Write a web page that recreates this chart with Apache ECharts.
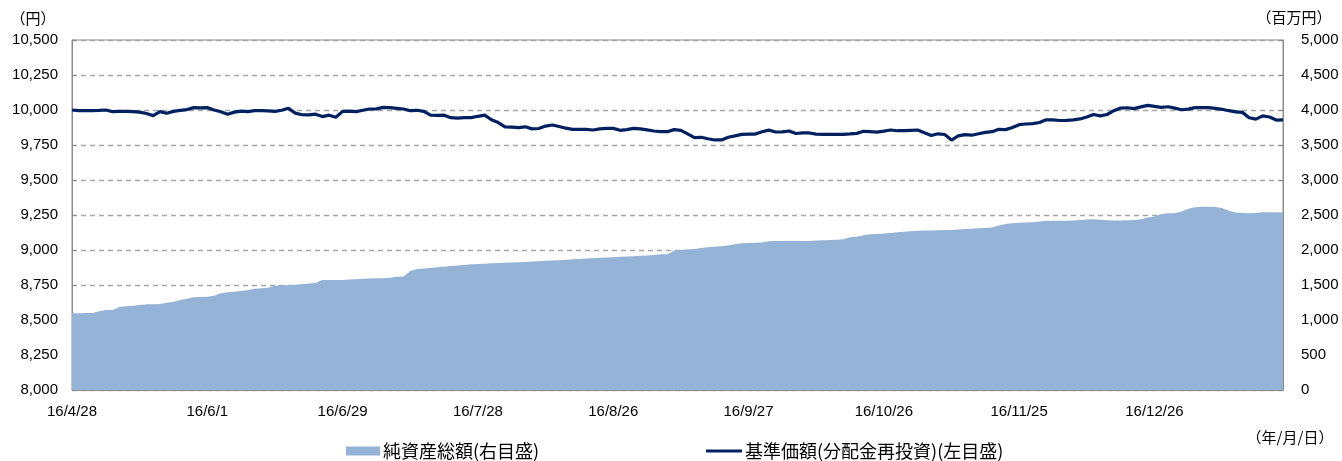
<!DOCTYPE html>
<html lang="ja">
<head>
    <meta charset="UTF-8">
    <title>基準価額・純資産総額の推移</title>
    <script src="https://cdn.jsdelivr.net/npm/echarts@6/dist/echarts.min.js"></script>
    <style>
        * { margin: 0; padding: 0; box-sizing: border-box; }
        body { background: #ffffff; }
        #chart { width: 1342px; height: 461px; }
    </style>
</head>
<body>
    <div id="chart"></div>
    <script type="text/javascript">
        // 営業日（年/月/日）
        const dates = [
            '16/4/28', '16/5/2', '16/5/6', '16/5/9', '16/5/10', '16/5/11', '16/5/12', '16/5/13',
            '16/5/16', '16/5/17', '16/5/18', '16/5/19', '16/5/20', '16/5/23', '16/5/24', '16/5/25',
            '16/5/26', '16/5/27', '16/5/30', '16/5/31', '16/6/1', '16/6/2', '16/6/3', '16/6/6',
            '16/6/7', '16/6/8', '16/6/9', '16/6/10', '16/6/13', '16/6/14', '16/6/15', '16/6/16',
            '16/6/17', '16/6/20', '16/6/21', '16/6/22', '16/6/23', '16/6/24', '16/6/27', '16/6/28',
            '16/6/29', '16/6/30', '16/7/1', '16/7/4', '16/7/5', '16/7/6', '16/7/7', '16/7/8',
            '16/7/11', '16/7/12', '16/7/13', '16/7/14', '16/7/15', '16/7/19', '16/7/20', '16/7/21',
            '16/7/22', '16/7/25', '16/7/26', '16/7/27', '16/7/28', '16/7/29', '16/8/1', '16/8/2',
            '16/8/3', '16/8/4', '16/8/5', '16/8/8', '16/8/9', '16/8/10', '16/8/12', '16/8/15',
            '16/8/16', '16/8/17', '16/8/18', '16/8/19', '16/8/22', '16/8/23', '16/8/24', '16/8/25',
            '16/8/26', '16/8/29', '16/8/30', '16/8/31', '16/9/1', '16/9/2', '16/9/5', '16/9/6',
            '16/9/7', '16/9/8', '16/9/9', '16/9/12', '16/9/13', '16/9/14', '16/9/15', '16/9/16',
            '16/9/20', '16/9/21', '16/9/23', '16/9/26', '16/9/27', '16/9/28', '16/9/29', '16/9/30',
            '16/10/3', '16/10/4', '16/10/5', '16/10/6', '16/10/7', '16/10/11', '16/10/12', '16/10/13',
            '16/10/14', '16/10/17', '16/10/18', '16/10/19', '16/10/20', '16/10/21', '16/10/24', '16/10/25',
            '16/10/26', '16/10/27', '16/10/28', '16/10/31', '16/11/1', '16/11/2', '16/11/4', '16/11/7',
            '16/11/8', '16/11/9', '16/11/10', '16/11/11', '16/11/14', '16/11/15', '16/11/16', '16/11/17',
            '16/11/18', '16/11/21', '16/11/22', '16/11/24', '16/11/25', '16/11/28', '16/11/29', '16/11/30',
            '16/12/1', '16/12/2', '16/12/5', '16/12/6', '16/12/7', '16/12/8', '16/12/9', '16/12/12',
            '16/12/13', '16/12/14', '16/12/15', '16/12/16', '16/12/19', '16/12/20', '16/12/21', '16/12/22',
            '16/12/26', '16/12/27', '16/12/28', '16/12/29', '16/12/30', '17/1/4', '17/1/5', '17/1/6',
            '17/1/10', '17/1/11', '17/1/12', '17/1/13', '17/1/16', '17/1/17', '17/1/18', '17/1/19',
            '17/1/20', '17/1/23', '17/1/24', '17/1/25'
        ];

        // 基準価額（分配金再投資）（円）
        const navValues = [
            10000, 9995, 9995, 9995, 9997, 10000, 9988, 9990, 9990, 9988,
            9985, 9975, 9960, 9988, 9977, 9990, 9997, 10003, 10017, 10015,
            10017, 10000, 9988, 9970, 9985, 9992, 9989, 9995, 9995, 9994,
            9990, 9998, 10012, 9978, 9966, 9965, 9970, 9953, 9963, 9948,
            9990, 9992, 9988, 9998, 10007, 10008, 10019, 10017, 10012, 10007,
            9995, 9998, 9990, 9963, 9962, 9963, 9945, 9942, 9945, 9946,
            9955, 9963, 9930, 9910, 9880, 9877, 9874, 9880, 9865, 9868,
            9885, 9893, 9882, 9870, 9862, 9862, 9861, 9857, 9865, 9869,
            9869, 9855, 9860, 9869, 9865, 9858, 9850, 9845, 9845, 9860,
            9855, 9830, 9803, 9805, 9795, 9786, 9786, 9805, 9815, 9826,
            9828, 9828, 9845, 9856, 9843, 9844, 9850, 9832, 9836, 9836,
            9828, 9826, 9826, 9826, 9826, 9829, 9833, 9848, 9846, 9842,
            9849, 9857, 9852, 9852, 9855, 9857, 9837, 9818, 9830, 9825,
            9785, 9815, 9824, 9820, 9830, 9840, 9845, 9862, 9860, 9875,
            9895, 9900, 9903, 9911, 9930, 9929, 9925, 9926, 9930, 9936,
            9950, 9968, 9958, 9968, 9995, 10014, 10016, 10010, 10022, 10033,
            10026, 10019, 10023, 10013, 10002, 10006, 10017, 10018, 10017, 10011,
            10005, 9995, 9987, 9983, 9945, 9935, 9958, 9950, 9928, 9930
        ];

        // 純資産総額（百万円）
        const assetValues = [
            1095, 1095, 1100, 1100, 1125, 1143, 1143, 1185, 1195, 1205,
            1215, 1224, 1224, 1228, 1245, 1262, 1285, 1305, 1324, 1327,
            1332, 1345, 1381, 1395, 1405, 1415, 1430, 1445, 1452, 1460,
            1490, 1495, 1498, 1502, 1510, 1520, 1530, 1570, 1571, 1571,
            1572, 1578, 1583, 1588, 1592, 1595, 1598, 1603, 1618, 1620,
            1700, 1728, 1735, 1742, 1752, 1762, 1770, 1778, 1787, 1795,
            1800, 1805, 1810, 1813, 1818, 1822, 1826, 1830, 1835, 1840,
            1845, 1850, 1855, 1862, 1868, 1872, 1878, 1882, 1888, 1893,
            1897, 1903, 1908, 1912, 1917, 1922, 1930, 1938, 1938, 1990,
            2000, 2008, 2015, 2030, 2040, 2048, 2055, 2064, 2082, 2096,
            2099, 2102, 2108, 2125, 2129, 2129, 2129, 2129, 2129, 2130,
            2134, 2138, 2143, 2148, 2152, 2181, 2190, 2212, 2225, 2230,
            2236, 2243, 2252, 2260, 2268, 2276, 2278, 2280, 2282, 2284,
            2286, 2292, 2300, 2305, 2310, 2316, 2322, 2350, 2372, 2383,
            2388, 2393, 2398, 2408, 2418, 2419, 2419, 2419, 2422, 2429,
            2434, 2438, 2432, 2426, 2421, 2420, 2424, 2428, 2440, 2463,
            2480, 2515, 2524, 2524, 2550, 2590, 2610, 2619, 2619, 2615,
            2600, 2560, 2535, 2530, 2526, 2530, 2538, 2538, 2538, 2536
        ];

        const assetName = '純資産総額(右目盛)';
        const navName = '基準価額(分配金再投資)(左目盛)';

        const numFont = "'Liberation Sans', Arial, sans-serif";
        const jpFont = "'Noto Sans CJK JP', sans-serif";
        const axisGray = '#8c8c8c';

        const chart = echarts.init(document.getElementById('chart'));

        const fmt = v => v.toLocaleString('en-US');

        // 単位ラベル
        const unitText = (x, y, text) => ({
            type: 'text', x: x, y: y,
            style: {
                text: text, fontFamily: jpFont, fontSize: 15, fill: '#000',
                align: 'center', verticalAlign: 'middle'
            }
        });

        chart.setOption({
            animation: false,
            grid: {
                left: 72, right: 59, top: 40, bottom: 71,
                show: true, borderColor: axisGray, borderWidth: 1
            },
            legend: [
                {
                    data: [{ name: assetName, icon: 'rect' }],
                    left: 346, top: 442, padding: 0,
                    itemWidth: 34, itemHeight: 9, itemGap: 0,
                    textStyle: { fontFamily: jpFont, fontSize: 18, lineHeight: 18, color: '#000', padding: [0, 0, 0, -2] }
                },
                {
                    data: [{ name: navName, icon: 'rect' }],
                    left: 706, top: 442, padding: 0,
                    itemWidth: 36, itemHeight: 3, itemGap: 0,
                    textStyle: { fontFamily: jpFont, fontSize: 18, lineHeight: 18, color: '#000', padding: [0, 0, 0, -2] }
                }
            ],
            graphic: [
                unitText(33, 18, '（円）'),
                unitText(1294, 17, '（百万円）'),
                unitText(1290, 437, '（年/月/日）')
            ],
            xAxis: {
                type: 'category',
                data: dates,
                boundaryGap: false,
                axisLine: { lineStyle: { color: axisGray } },
                axisTick: { show: false },
                axisLabel: {
                    interval: (i) => i % 20 === 0,
                    hideOverlap: false,
                    margin: 14,
                    fontFamily: numFont, fontSize: 15, color: '#000'
                }
            },
            yAxis: [
                {
                    type: 'value',
                    min: 8000, max: 10500, interval: 250,
                    axisLine: { show: true, lineStyle: { color: axisGray } },
                    axisTick: { show: true, inside: true, length: 4, lineStyle: { color: axisGray } },
                    axisLabel: { formatter: fmt, margin: 14, fontFamily: numFont, fontSize: 15, color: '#000' },
                    splitLine: { lineStyle: { color: '#a6a6a6', type: [5, 4], width: 1.3 } }
                },
                {
                    type: 'value',
                    min: 0, max: 5000, interval: 500,
                    axisLine: { show: true, lineStyle: { color: axisGray } },
                    axisTick: { show: true, inside: true, length: 4, lineStyle: { color: axisGray } },
                    axisLabel: { formatter: fmt, margin: 18, fontFamily: numFont, fontSize: 15, color: '#000' },
                    splitLine: { show: false }
                }
            ],
            series: [
                {
                    name: assetName,
                    type: 'line',
                    yAxisIndex: 1,
                    data: assetValues,
                    symbol: 'none',
                    itemStyle: { color: '#95b3d7' },
                    lineStyle: { width: 0 },
                    areaStyle: { color: '#95b3d7', opacity: 1 },
                    z: 2
                },
                {
                    name: navName,
                    type: 'line',
                    yAxisIndex: 0,
                    data: navValues,
                    symbol: 'none',
                    itemStyle: { color: '#002060' },
                    lineStyle: { width: 3.2, color: '#002060' },
                    z: 3
                }
            ]
        });

        window.addEventListener('resize', function () {
            chart.resize();
        });
    </script>
</body>
</html>
